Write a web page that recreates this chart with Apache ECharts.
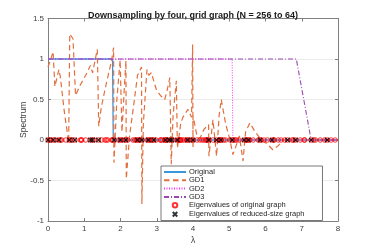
<!DOCTYPE html>
<html><head><meta charset="utf-8">
<script src="https://cdn.jsdelivr.net/npm/echarts@6/dist/echarts.min.js"></script>
<style>html,body{margin:0;padding:0;background:#fff}#c{width:374px;height:250px}</style>
</head><body><div id="c"></div>
<script>
const titleText = 'Downsampling by four, grid graph (N = 256 to 64)';
const seriesNames = ['Original', 'GD1', 'GD2', 'GD3', 'Eigenvalues of original graph', 'Eigenvalues of reduced-size graph'];

const origLambda = [0, 1.78, 1.80, 8];
const origValue  = [1, 1, 0, 0];
const gd2Lambda = [0, 5.08, 5.10, 8];
const gd2Value  = [1, 1, 0, 0];
const gd3Lambda = [0, 6.85, 7.26, 8];
const gd3Value  = [1, 1, 0, 0];

const gd1Lambda = [0, 0.04, 0.14, 0.19, 0.30, 0.34, 0.45, 0.57, 0.60, 0.69, 0.76, 0.89, 1.04, 1.17, 1.23, 1.36, 1.40, 1.47, 1.57, 1.65, 1.75, 1.81, 1.82, 1.90, 1.99, 2.04, 2.10, 2.15, 2.16, 2.25, 2.34, 2.47, 2.58, 2.59, 2.63, 2.73, 2.78, 2.85, 2.99, 3.10, 3.22, 3.28, 3.36, 3.40, 3.45, 3.54, 3.57, 3.66, 3.72, 3.82, 3.86, 3.96, 3.99, 4.00, 4.00, 4.11, 4.19, 4.30, 4.43, 4.44, 4.55, 4.65, 4.72, 4.78, 4.90, 5.02, 5.10, 5.16, 5.28, 5.38, 5.45, 5.57, 5.70, 5.85, 6.05, 6.20, 6.35, 6.50, 8];
const gd1Value  = [0.90, 0.95, 1.09, 0.66, 0.87, 0.78, 0.35, -0.03, 1.31, 1.25, 0.55, 0.68, 0.80, 0.92, 0.83, 1.12, 0.17, 0.40, 0.62, 0.78, 0.97, 1.14, -0.28, 0.50, 0.99, 0.10, 0.60, 0.98, -0.48, 0.05, 0.35, 0.80, 0.90, -0.79, 0.20, 0.87, 0.80, 0.83, 0.62, 0.55, 0.50, 0.60, 0.77, -0.30, 0.30, 0.73, -0.10, 0.20, 0.28, 0.35, 0.38, 0.28, 1.18, -0.09, 0.30, 0.05, 0.02, 0.13, 0.19, -0.20, 0.25, -0.20, 0.30, 0.50, 0.20, 0.00, -0.18, -0.11, 0.05, -0.26, 0.10, 0.21, 0.11, 0.02, -0.05, -0.12, -0.07, 0.00, 0];

const origEig = [0, 0.04, 0.15, 0.34, 0.59, 0.89, 1.23, 1.61, 2, 2.39, 2.77, 3.11, 3.41, 3.66, 3.85, 3.96,
  0.08, 0.19, 0.38, 0.62, 0.93, 1.27, 1.65, 2.04, 2.43, 2.80, 3.15, 3.45, 3.70, 3.89, 4.0,
  0.30, 0.49, 0.74, 1.04, 1.39, 1.76, 2.15, 2.54, 2.92, 3.26, 3.57, 3.82, 4.11,
  0.67, 0.92, 1.57, 1.95, 2.34, 2.73, 3.10, 3.75, 4.19, 4.30,
  1.17, 1.48, 1.82, 2.20, 2.59, 2.98, 3.35, 4.25, 4.43, 4.55,
  1.78, 2.12, 2.50, 2.89, 3.28, 3.65, 4.74, 4.85,
  2.47, 2.85, 3.24, 3.63, 4.35, 4.65, 4.90, 5.08, 5.20,
  3.22, 3.61, 4.38, 4.72, 5.02, 5.27, 5.46, 5.57,
  4.39, 4.77, 5.11, 5.41, 5.66, 5.85, 5.96,
  4.78, 5.16, 5.50, 5.80, 6.05, 6.24, 6.35,
  5.53, 5.88, 6.18, 6.43, 6.61, 6.73,
  6.22, 6.53, 6.77, 6.96, 7.07,
  6.83, 7.08, 7.26, 7.38,
  7.33, 7.51, 7.63,
  7.70, 7.81,
  7.92];
const reducedEig = [0, 0.15, 0.30, 0.59, 0.74, 1.17, 1.23, 1.39, 1.82, 2, 2.15, 2.47, 2.59, 2.77, 2.92, 3.24, 3.35, 3.41, 3.57, 3.85, 4, 4.43, 4.65, 4.77, 5.08, 5.41, 5.53, 5.85, 6.18, 6.61, 6.83, 7.26, 7.70];

const xTicks = {min: 0, max: 8, step: 1};
const yTicks = {min: -1, max: 1.5, step: 0.5};

function pairs(xs, ys) { return xs.map((x, i) => [x, ys[i]]); }

const chart = echarts.init(document.getElementById('c'), null, {renderer: 'canvas'});
const axisCol = '#808080';
const labelCol = '#404040';
const font = 'Liberation Sans, Arial, sans-serif';

const baseX = {
  type: 'value', min: xTicks.min, max: xTicks.max, interval: xTicks.step,
  axisLine: {show: true, onZero: false, lineStyle: {color: axisCol, width: 1}},
  axisTick: {show: true, inside: true, length: 3, lineStyle: {color: axisCol}},
  splitLine: {show: false}
};
const baseY = {
  type: 'value', min: yTicks.min, max: yTicks.max, interval: yTicks.step,
  axisLine: {show: true, onZero: false, lineStyle: {color: axisCol, width: 1}},
  axisTick: {show: true, inside: true, length: 3, lineStyle: {color: axisCol}}
};

const legendData = seriesNames.map((n, i) => i < 4
  ? {name: n, itemStyle: {opacity: 0, color: 'rgba(0,0,0,0)', borderWidth: 0}}
  : {name: n});

const option = {
  animation: false,
  backgroundColor: '#fff',
  title: {
    text: titleText, left: 188, top: 6, textAlign: 'center',
    textStyle: {fontFamily: font, fontSize: 9, fontWeight: 'bold', color: '#1a1a1a'}
  },
  grid: {left: 48, right: 36, top: 18.5, bottom: 28.3},
  xAxis: [
    Object.assign({}, baseX, {
      position: 'bottom',
      axisLabel: {show: true, fontFamily: font, fontSize: 8, color: labelCol, margin: 4},
      name: 'λ', nameLocation: 'middle', nameGap: 15, nameMoveOverlap: false,
      nameTextStyle: {fontFamily: font, fontSize: 8.5, color: labelCol}
    }),
    Object.assign({}, baseX, {position: 'top', axisLabel: {show: false}})
  ],
  yAxis: [
    Object.assign({}, baseY, {
      position: 'left',
      axisLabel: {show: true, fontFamily: font, fontSize: 8, color: labelCol, margin: 4},
      splitLine: {show: true, lineStyle: {color: '#ebebeb', width: 1}},
      name: 'Spectrum', nameLocation: 'middle', nameGap: 20, nameRotate: 90, nameMoveOverlap: false,
      nameTextStyle: {fontFamily: font, fontSize: 8.5, color: labelCol}
    }),
    Object.assign({}, baseY, {position: 'right', axisLabel: {show: false}, splitLine: {show: false}})
  ],
  legend: {
    orient: 'vertical', left: 161, top: 166,
    data: legendData,
    itemWidth: 22, itemHeight: 4.5, itemGap: 0.3,
    padding: [2, 18, 1.5, 2],
    backgroundColor: '#fff', borderColor: '#555', borderWidth: 0.8, borderRadius: 0,
    textStyle: {fontFamily: font, fontSize: 7.5, lineHeight: 8, color: '#262626', padding: [0, 0, 0, -2]},
    selectedMode: false
  },
  series: [
    {name: seriesNames[0], type: 'line', data: pairs(origLambda, origValue), symbol: 'circle', showSymbol: false,
     lineStyle: {color: '#3b97dc', width: 1.3, type: 'solid'}, itemStyle: {color: '#3b97dc'}, z: 2},
    {name: seriesNames[1], type: 'line', data: pairs(gd1Lambda, gd1Value), symbol: 'circle', showSymbol: false,
     lineStyle: {color: '#e2703e', width: 1.2, type: [5.5, 3.5]}, itemStyle: {color: '#e2703e'}, z: 3},
    {name: seriesNames[2], type: 'line', data: pairs(gd2Lambda, gd2Value), symbol: 'circle', showSymbol: false,
     lineStyle: {color: '#ff33ff', width: 1, type: [1, 1.5]}, itemStyle: {color: '#ff33ff'}, z: 4},
    {name: seriesNames[3], type: 'line', data: pairs(gd3Lambda, gd3Value), symbol: 'circle', showSymbol: false,
     lineStyle: {color: '#9a48b0', width: 1.1, type: [5, 2, 1, 2]}, itemStyle: {color: '#9a48b0'}, z: 5},
    {name: seriesNames[4], type: 'scatter', data: origEig.map(v => [v, 0]), symbol: 'circle', symbolSize: 4.5,
     itemStyle: {color: 'rgba(255,255,255,0)', borderColor: '#ff0000', borderWidth: 1}, z: 6},
    {name: seriesNames[5], type: 'scatter', data: reducedEig.map(v => [v, 0]),
     symbol: 'path://M0,0L10,10M10,0L0,10', symbolSize: 4.5,
     itemStyle: {color: 'none', borderColor: '#000', borderWidth: 1.1}, z: 7}
  ]
};
chart.setOption(option);
</script></body></html>
